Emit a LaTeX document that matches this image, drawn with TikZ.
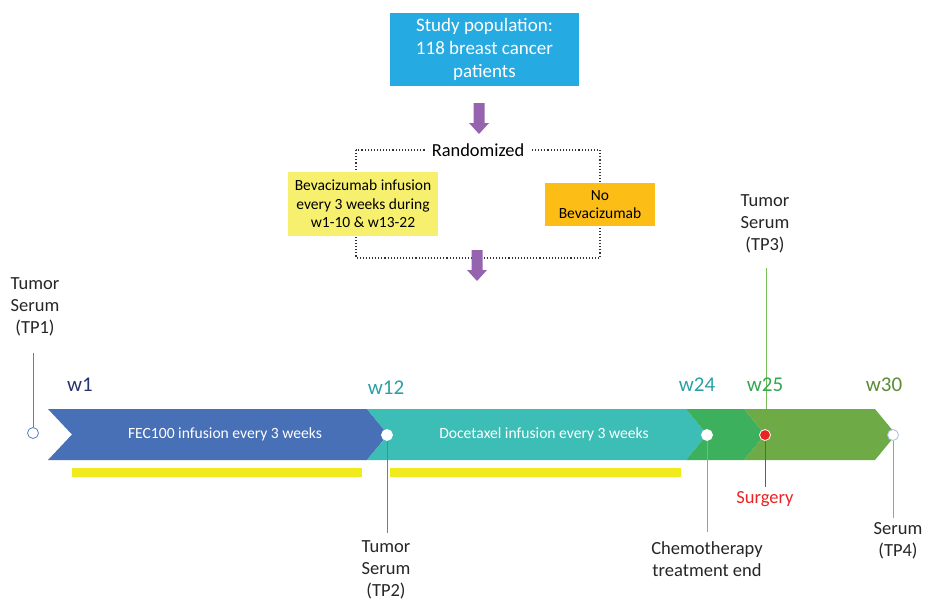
\documentclass[tikz,border=0pt]{standalone}
\usepackage{fontspec}
\setmainfont{Carlito}
\begin{document}
\begin{tikzpicture}[x=1pt,y=-1pt,
  lbl/.style={font=\fontsize{18.5}{22}\selectfont, align=center, inner sep=0pt, text=black!85},
  wk/.style={font=\fontsize{21}{24}\selectfont, inner sep=0pt},
  band/.style={font=\fontsize{15.6}{18}\selectfont, text=white, inner sep=0pt},
  dot/.style={circle, draw=white, line width=0.8pt, fill=white, minimum size=11pt, inner sep=0pt},
  purple arrow/.style={fill=arrowpurple},
]
\definecolor{popblue}{RGB}{38,170,226}
\definecolor{arrowpurple}{RGB}{150,100,175}
\definecolor{bevyellow}{RGB}{246,240,110}
\definecolor{noorange}{RGB}{252,190,22}
\definecolor{fecblue}{RGB}{72,112,182}
\definecolor{doceteal}{RGB}{60,190,182}
\definecolor{grnA}{RGB}{60,176,92}
\definecolor{grnB}{RGB}{110,170,70}
\definecolor{baryellow}{RGB}{240,234,30}
\definecolor{navy}{RGB}{40,52,110}
\definecolor{tealtxt}{RGB}{40,160,165}
\definecolor{grntxt}{RGB}{50,168,80}
\definecolor{grntxtB}{RGB}{90,140,50}
\definecolor{linegreen}{RGB}{120,190,90}
\definecolor{lineblue}{RGB}{90,125,200}
\definecolor{surgred}{RGB}{235,35,35}
\useasboundingbox (0,0) rectangle (925,603);
\fill[white] (0,0) rectangle (925,603);

% top
\node[fill=popblue, text=white, minimum width=189pt, minimum height=73pt, align=center,
  font=\fontsize{19}{23}\selectfont, inner sep=0pt] (pop) at (484.5,49.5)
  {Study population:\\118 breast cancer\\patients};
\fill[purple arrow] (473.5,103) -- (484.5,103) -- (484.5,123) -- (489,123) -- (479,134) -- (469,123) -- (473.5,123) -- cycle;

\draw[dotted, line width=1.1pt, black!80] (356,150) rectangle (600,258);
\node[fill=white, font=\fontsize{18.4}{21}\selectfont, inner xsep=6pt, inner ysep=2pt] (rand) at (478,150) {Randomized};
\node[fill=bevyellow, minimum width=150pt, minimum height=64pt, align=center,
  font=\fontsize{15.5}{18.5}\selectfont, inner sep=0pt] (bev) at (363,204)
  {Bevacizumab infusion\\every 3 weeks during\\w1-10 \& w13-22};
\node[fill=noorange, minimum width=110pt, minimum height=43pt, align=center,
  font=\fontsize{15.5}{18.5}\selectfont, inner sep=0pt] (nobev) at (600,204.5)
  {No\\Bevacizumab};
\fill[purple arrow] (471.5,250) -- (482.5,250) -- (482.5,270) -- (487,270) -- (477,281) -- (467,270) -- (471.5,270) -- cycle;

% TP3 line behind the band
\coordinate (tp3e) at (766,268);
\coordinate (tp3b) at (766,412);
\draw[linegreen, line width=0.9pt] (tp3e) -- (tp3b);

% timeline band
\fill[fecblue] (48,409) -- (367,409) -- (388,434.5) -- (367,460) -- (48,460) -- (72,434.5) -- cycle;
\fill[doceteal] (367,409) -- (686,409) -- (707,434.5) -- (686,460) -- (367,460) -- (388,434.5) -- cycle;
\fill[grnA] (686,409) -- (744,409) -- (765,434.5) -- (744,460) -- (686,460) -- (707,434.5) -- cycle;
\fill[grnB] (744,409) -- (875,409) -- (896,434.5) -- (875,460) -- (744,460) -- (765,434.5) -- cycle;

\node[band] (fec) at (225,434.5) {FEC100 infusion every 3 weeks};
\node[band] (doc) at (544,434.5) {Docetaxel infusion every 3 weeks};

\fill[baryellow] (72,468) rectangle (362,477);
\fill[baryellow] (390,468) rectangle (681,477);

% week labels
\node[wk, text=navy] (w1) at (80,385) {w1};
\node[wk, text=tealtxt] (w12) at (386,388) {w12};
\node[wk, text=tealtxt] (w24) at (697,385) {w24};
\node[wk, text=grntxt] (w25) at (765,385) {w25};
\node[wk, text=grntxtB] (w30) at (884,385) {w30};

% time points
\node[dot, draw=lineblue, line width=0.8pt, minimum size=11pt] (c1) at (33,433) {};
\node[dot] (c12) at (387,435) {};
\node[dot] (c24) at (707,435) {};
\node[dot, fill=surgred] (c25) at (765,435) {};
\node[dot, draw=lineblue!50, line width=0.8pt] (c30) at (893,435) {};

\node[lbl] (tp1) at (35,307) {Tumor\\Serum\\(TP1)};
\node[lbl] (tp2) at (386,570) {Tumor\\Serum\\(TP2)};
\node[lbl] (tp3) at (765,224) {Tumor\\Serum\\(TP3)};
\node[lbl] (chemo) at (707,559) {Chemotherapy\\treatment end};
\node[lbl] (tp4) at (898,541) {Serum\\(TP4)};
\node[lbl, text=surgred] (surg) at (765,499) {Surgery};

\coordinate (tp1e) at (33,353);
\coordinate (tp2e) at (387,533);
\coordinate (chemoe) at (707,532);
\coordinate (surge) at (765,487);
\coordinate (tp4e) at (893,518);

\draw[lineblue, line width=0.9pt] (tp1e) -- (c1.north);
\draw[lineblue, line width=0.9pt] (c12.south) -- (tp2e);
\draw[linegreen, line width=0.9pt] (c24.south) -- (chemoe);
\draw[surgred, line width=0.9pt] (c25.south) -- (surge);
\draw[linegreen, line width=0.9pt] (c30.south) -- (tp4e);
\end{tikzpicture}
\end{document}
